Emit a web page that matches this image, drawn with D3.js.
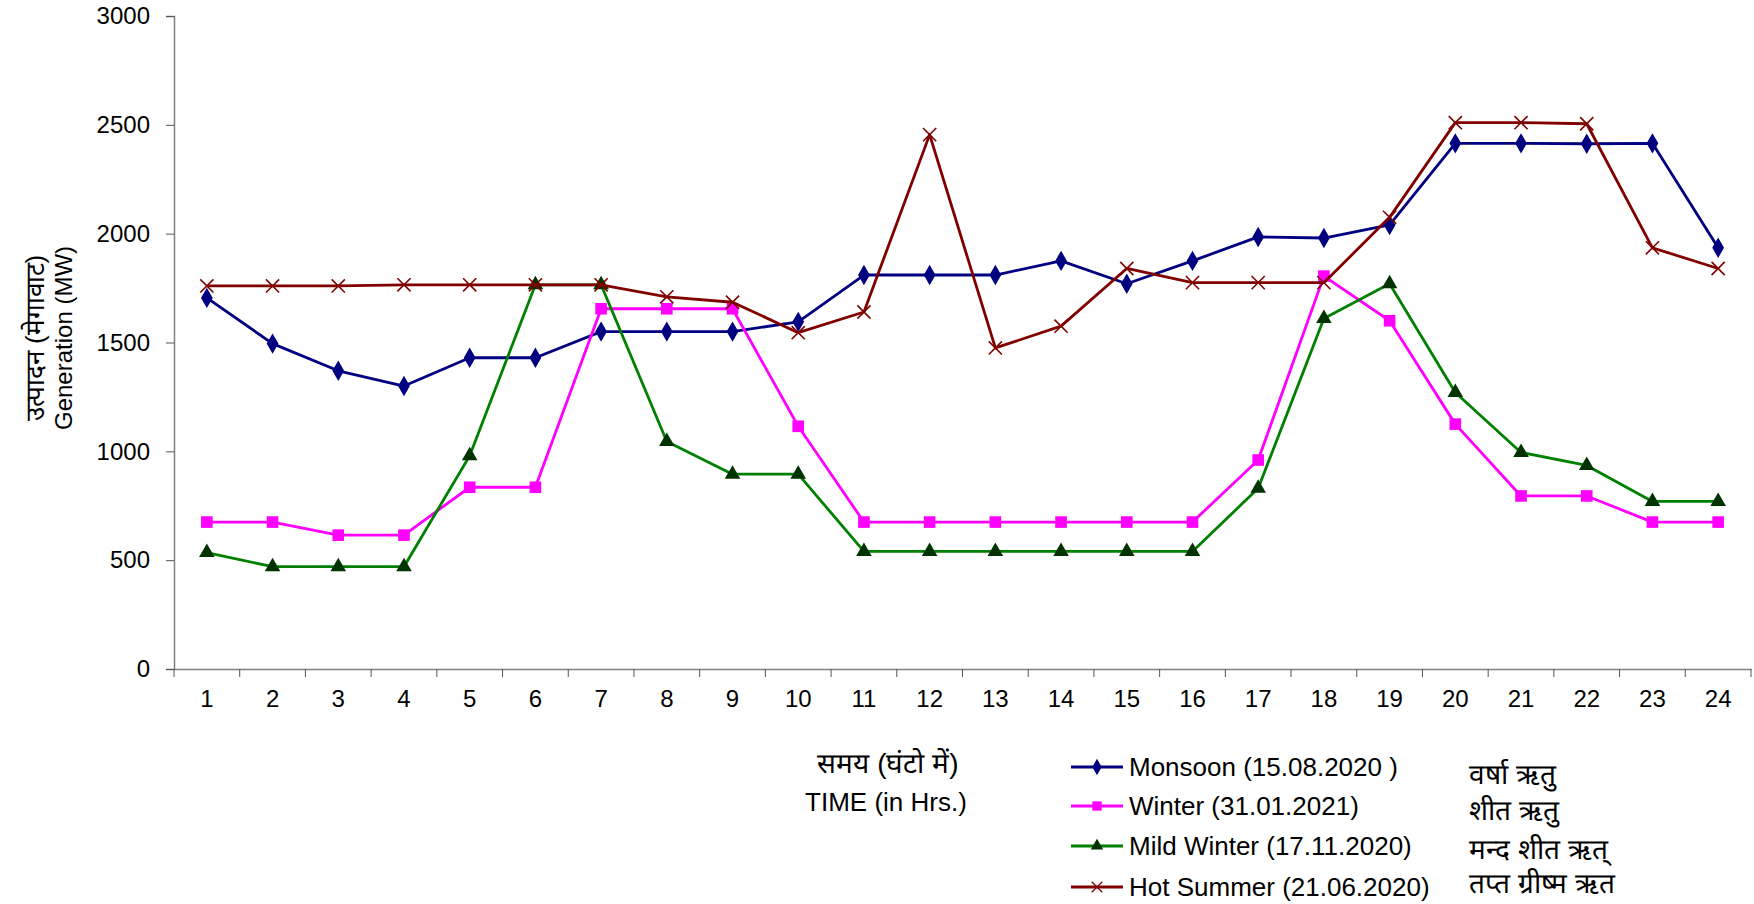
<!DOCTYPE html>
<html>
<head>
<meta charset="utf-8">
<script src="https://cdn.jsdelivr.net/npm/d3@7"></script>
<style>
  body { margin: 0; background: #fff; }
  svg { display: block; font-family: "Liberation Sans", Arial, sans-serif; }
</style>
</head>
<body>
<svg id="chart" width="1754" height="904"></svg>
<script>
// hours on the x axis
var hours = d3.range(1, 25)
var yTicks = [0, 500, 1000, 1500, 2000, 2500, 3000]

// generation values (MW)
var monsoon    = [1705, 1495, 1370, 1300, 1430, 1430, 1550, 1550, 1550, 1595, 1810, 1810,
                  1810, 1875, 1770, 1875, 1985, 1980, 2040, 2415, 2415, 2413, 2415, 1935]
var winter     = [675, 675, 615, 615, 835, 835, 1655, 1655, 1655, 1115, 675, 675,
                  675, 675, 675, 675, 960, 1805, 1600, 1125, 795, 795, 675, 675]
var mildWinter = [535, 470, 470, 470, 980, 1765, 1765, 1045, 895, 895, 540, 540,
                  540, 540, 540, 540, 830, 1610, 1770, 1270, 995, 935, 770, 770]
var hotSummer  = [1760, 1760, 1760, 1765, 1765, 1765, 1765, 1710, 1685, 1545, 1640, 2455,
                  1475, 1575, 1840, 1775, 1775, 1775, 2075, 2510, 2510, 2505, 1935, 1840]

var seriesNames = ["Monsoon (15.08.2020 )", "Winter (31.01.2021)", "Mild Winter (17.11.2020)", "Hot Summer (21.06.2020)"]
var hindiNames  = ["वर्षा ऋतु", "शीत ऋतु", "मन्द शीत ऋत्", "तप्त ग्रीष्म ऋत"]

var series = [
  {name: seriesNames[0], hindi: hindiNames[0], values: monsoon,    line: "#000080", fill: "#000080", shape: "diamond"},
  {name: seriesNames[1], hindi: hindiNames[1], values: winter,     line: "#ff00ff", fill: "#ff00ff", shape: "square"},
  {name: seriesNames[2], hindi: hindiNames[2], values: mildWinter, line: "#008000", fill: "#003300", shape: "triangle"},
  {name: seriesNames[3], hindi: hindiNames[3], values: hotSummer,  line: "#800000", fill: "#800000", shape: "cross"}
]

var svg = d3.select("#chart")
// plot box (note: "top" is taken by window.top, so prefixed names)
var plotLeft = 174, plotRight = 1751, plotTop = 16, plotBottom = 669

var x = d3.scaleBand().domain(hours).range([plotLeft, plotRight]).padding(0)
var y = d3.scaleLinear().domain([0, 3000]).range([plotBottom, plotTop])
var cx = function(h) { return x(h) + x.bandwidth() / 2 }

// y axis
var yAxis = svg.append("g")
  .attr("transform", "translate(" + plotLeft + ",0)")
  .call(d3.axisLeft(y).tickValues(yTicks).tickSize(8).tickPadding(16).tickFormat(d3.format("d")))
yAxis.select(".domain").attr("stroke", "#808080").attr("stroke-width", 1.5)
yAxis.selectAll(".tick line").attr("stroke", "#555")
yAxis.selectAll("text").attr("font-size", 24).attr("fill", "#000")
  .attr("font-family", "Liberation Sans, Arial, sans-serif")

// x axis: labels at category centres, ticks on category boundaries
var xAxis = svg.append("g")
  .attr("transform", "translate(0," + plotBottom + ")")
  .call(d3.axisBottom(x).tickSize(0).tickPadding(21))
xAxis.select(".domain").attr("stroke", "#808080").attr("stroke-width", 1.5)
xAxis.selectAll("text").attr("font-size", 24).attr("fill", "#000")
  .attr("font-family", "Liberation Sans, Arial, sans-serif")
svg.append("g").selectAll("line")
  .data(hours.map(function(h) { return x(h) }).concat([plotRight]))
  .enter().append("line")
  .attr("x1", function(d) { return d }).attr("x2", function(d) { return d })
  .attr("y1", plotBottom).attr("y2", plotBottom + 8)
  .attr("stroke", "#555")

// y axis title (two rotated lines)
var yTitle = svg.append("text")
  .attr("transform", "translate(44,338) rotate(-90)")
  .attr("text-anchor", "middle")
yTitle.append("tspan").attr("x", 0).attr("dy", 0).attr("font-size", 26).text("उत्पादन (मेगावाट)")
yTitle.append("tspan").attr("x", 0).attr("dy", 28).attr("font-size", 24).text("Generation (MW)")

// marker shapes
var symbolFor = {
  diamond: d3.symbol().type(d3.symbolDiamond).size(120),
  square: d3.symbol().type(d3.symbolSquare).size(135),
  triangle: d3.symbol().type(d3.symbolTriangle).size(105),
  cross: d3.symbol().type(d3.symbolTimes).size(115)
}
function drawMarker(g, s) {
  var p = g.append("path").attr("d", symbolFor[s.shape]())
  if (s.shape === "cross") {
    p.attr("fill", "none").attr("stroke", s.fill).attr("stroke-width", 1.6)
  } else {
    p.attr("fill", s.fill)
  }
  return p
}

var line = d3.line()
  .x(function(d, i) { return cx(hours[i]) })
  .y(function(d) { return y(d) })

series.forEach(function(s) {
  var g = svg.append("g")
  g.append("path")
    .datum(s.values)
    .attr("d", line)
    .attr("fill", "none")
    .attr("stroke", s.line)
    .attr("stroke-width", 2.8)
    .attr("stroke-linejoin", "round")
  s.values.forEach(function(v, i) {
    var m = g.append("g").attr("transform", "translate(" + cx(hours[i]) + "," + y(v) + ")")
    drawMarker(m, s)
  })
})

// x axis title
svg.append("text").attr("x", 888).attr("y", 773).attr("text-anchor", "middle")
  .attr("font-size", 28).text("समय (घंटो में)")
svg.append("text").attr("x", 886).attr("y", 811).attr("text-anchor", "middle")
  .attr("font-size", 26).text("TIME (in Hrs.)")

// legend
var rowY = [767, 806, 846, 887]
var hindiY = [774, 810, 849, 883]
series.forEach(function(s, i) {
  var g = svg.append("g").attr("transform", "translate(0," + rowY[i] + ")")
  g.append("line").attr("x1", 1071).attr("x2", 1123).attr("y1", 0).attr("y2", 0)
    .attr("stroke", s.line).attr("stroke-width", 2.8)
  var m = g.append("g").attr("transform", "translate(1097,0) scale(0.8)")
  drawMarker(m, s)
  g.append("text").attr("x", 1129).attr("y", 0).attr("dy", "0.35em")
    .attr("font-size", 26).text(s.name)
  svg.append("text").attr("x", 1469).attr("y", hindiY[i]).attr("dy", "0.35em")
    .attr("font-size", 28).text(s.hindi)
})
</script>
</body>
</html>
